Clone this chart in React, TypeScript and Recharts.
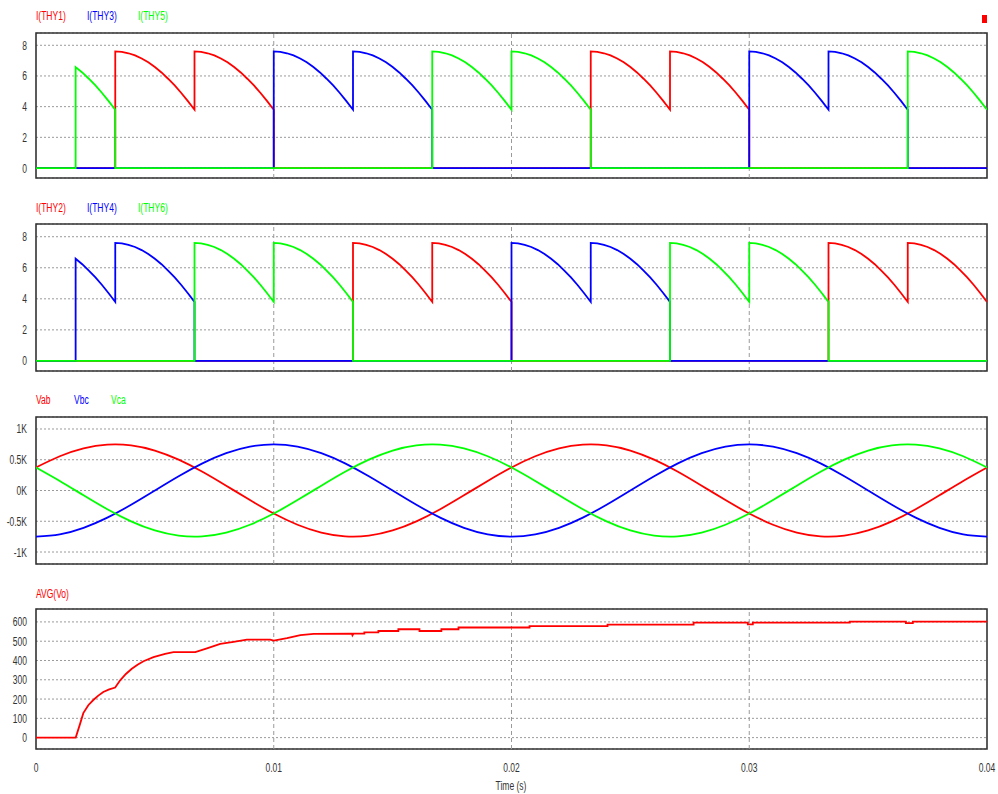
import React from 'react';
import { LineChart, Line, XAxis, YAxis, CartesianGrid, ReferenceLine, ReferenceArea } from 'recharts';

// time base of the voltage samples (ms)
const V_TIME_MS = Array.from({ length: 41 }, (_, i) => i);

const VAB = [375, 557, 685, 746, 734, 650, 502, 305, 78, -156, -375, -557, -685, -746, -734, -650, -502, -305, -78, 156, 375,
  557, 685, 746, 734, 650, 502, 305, 78, -156, -375, -557, -685, -746, -734, -650, -502, -305, -78, 156, 375];
const VBC = [-750, -713, -607, -441, -232, 0, 232, 441, 607, 713, 750, 713, 607, 441, 232, 0, -232, -441, -607, -713, -750,
  -713, -607, -441, -232, 0, 232, 441, 607, 713, 750, 713, 607, 441, 232, 0, -232, -441, -607, -713, -750];
const VCA = [375, 156, -78, -305, -502, -650, -734, -746, -685, -557, -375, -156, 78, 305, 502, 650, 734, 746, 685, 557, 375,
  156, -78, -305, -502, -650, -734, -746, -685, -557, -375, -156, 78, 305, 502, 650, 734, 746, 685, 557, 375];

// one 60 deg conduction step of the load current, peak -> trough (A)
const SEG_SHAPE = [7.6, 7.57, 7.48, 7.34, 7.14, 6.89, 6.58, 6.23, 5.82, 5.38, 4.89, 4.36, 3.8];
const SEG_MS = 40 / 12;

// conduction windows (ms)
const THY1_ON = [[3.333, 10], [23.333, 30]];
const THY3_ON = [[10, 16.667], [30, 36.667]];
const THY5_ON = [[1.667, 3.333], [16.667, 23.333], [36.667, 40]];
const THY2_ON = [[13.333, 20], [33.333, 40]];
const THY4_ON = [[1.667, 6.667], [20, 26.667]];
const THY6_ON = [[6.667, 13.333], [26.667, 33.333]];

// AVG(Vo)
const AVG_T_MS = [0, 1.67, 1.85, 1.99, 2.2, 2.41, 2.62, 2.83, 3.08, 3.33, 3.54, 3.78, 4.03, 4.27, 4.52, 4.94, 5.43, 5.78, 6.7,
  7.19, 7.75, 8.31, 8.87, 9.85, 10, 10.56, 11.12, 11.68, 13.29, 13.31, 13.35, 13.81, 13.81, 14.4, 14.4, 15.24, 15.24,
  16.13, 16.13, 17.05, 17.05, 17.77, 17.77, 20.76, 20.76, 24.04, 24.04, 27.66, 27.66, 29.94, 29.94, 30.15, 30.15,
  34.23, 34.23, 36.59, 36.59, 36.88, 36.88, 40];
const AVG_V = [0, 0, 70, 127, 168, 195, 218, 237, 250, 260, 297, 330, 357, 378, 396, 417, 434, 443, 443,
  463, 486, 497, 508, 508, 503, 516, 532, 538, 539, 531, 539, 539, 546, 546, 553, 553, 562,
  562, 553, 553, 562, 562, 571, 571, 578, 578, 586, 586, 596, 596, 587, 587, 596,
  596, 602, 602, 594, 594, 602, 602];

const TIME_TICKS = [0, 0.01, 0.02, 0.03, 0.04];
const I_TICKS = [0, 2, 4, 6, 8];
const V_TICKS = [-1000, -500, 0, 500, 1000];
const AVG_TICKS = [0, 100, 200, 300, 400, 500, 600];

const RED = '#ff0000';
const BLUE = '#0000ff';
const GREEN = '#00ff00';
const SX = 0.63;
const FONT = '"Liberation Sans", Arial, sans-serif';

type Pt = { t: number; v: number };

function thyristorSeries(windows: number[][]): Pt[] {
  const sub = SEG_SHAPE.length - 1;
  const tt = (i: number) => (i * SEG_MS) / sub / 1000;
  const pts: Pt[] = [{ t: 0, v: 0 }];
  let endsAtLast = false;
  windows.forEach(([a, b]) => {
    const i0 = Math.round((a / SEG_MS) * sub);
    const i1 = Math.round((b / SEG_MS) * sub);
    pts.push({ t: tt(i0), v: 0 });
    for (let i = i0; i <= i1; i++) {
      const k = i % sub;
      if (i === i0) pts.push({ t: tt(i), v: SEG_SHAPE[k] });
      else if (k === 0) {
        pts.push({ t: tt(i), v: SEG_SHAPE[sub] });
        if (i < i1) pts.push({ t: tt(i), v: SEG_SHAPE[0] });
      } else pts.push({ t: tt(i), v: SEG_SHAPE[k] });
    }
    if (b < 39.99) pts.push({ t: tt(i1), v: 0 });
    else endsAtLast = true;
  });
  if (!endsAtLast) pts.push({ t: 0.04, v: 0 });
  return pts;
}

const vSeries = (vals: number[]): Pt[] => vals.map((v, i) => ({ t: V_TIME_MS[i] / 1000, v }));
const avgSeries: Pt[] = AVG_V.map((v, i) => ({ t: AVG_T_MS[i] / 1000, v }));

function NarrowText({ x, y, anchor = 'start', fill = '#333', size = 13.5, children }: any) {
  return (
    <g transform={`translate(${x},${y})`}>
      <text transform={`scale(${SX},1)`} textAnchor={anchor} fill={fill} fontSize={size} fontFamily={FONT}>
        {children}
      </text>
    </g>
  );
}

const makeYTick = (fmt: (v: number) => string) => (props: any) => {
  const { x, y, payload } = props;
  return <NarrowText x={x} y={y + 4.5} anchor="end">{fmt(payload.value)}</NarrowText>;
};

const XTick = (props: any) => {
  const { x, y, payload } = props;
  const v = payload.value;
  return <NarrowText x={x} y={y + 22.5} anchor="middle">{v === 0 ? '0' : String(Number(v.toFixed(2)))}</NarrowText>;
};

type SeriesDef = { data: Pt[]; color: string; curve?: any };

function Panel({ top, height, mTop, mBottom, domain, ticks, fmt, series, showX }: any) {
  return (
    <div style={{ position: 'absolute', left: 0, top, width: 998, height }}>
      <LineChart width={998} height={height} margin={{ top: mTop, right: 11, bottom: mBottom, left: 0 }}>
        <CartesianGrid vertical={false} stroke="#9a9a9a" strokeDasharray="2 2" />
        <XAxis
          type="number"
          dataKey="t"
          domain={[0, 0.04]}
          ticks={TIME_TICKS}
          hide={!showX}
          height={showX ? 45 : 0}
          axisLine={false}
          tickLine={false}
          tickSize={0}
          tickMargin={0}
          tick={<XTick />}
          interval={0}
          allowDataOverflow
        />
        <YAxis
          type="number"
          dataKey="v"
          domain={domain}
          ticks={ticks}
          width={36}
          axisLine={false}
          tickLine={false}
          tickSize={0}
          tickMargin={9}
          tick={makeYTick(fmt)}
          interval={0}
          allowDataOverflow
        />
        {[0.01, 0.02, 0.03].map((x) => (
          <ReferenceLine key={x} x={x} stroke="#9a9a9a" strokeDasharray="4 3" />
        ))}
        {series.map((s: SeriesDef, i: number) => (
          <Line
            key={i}
            data={s.data}
            dataKey="v"
            type={s.curve || 'linear'}
            stroke={s.color}
            strokeWidth={1.8}
            dot={false}
            activeDot={false}
            isAnimationActive={false}
          />
        ))}
        <ReferenceArea x1={0} x2={0.04} y1={domain[0]} y2={domain[1]} fill="none" stroke="#333" strokeWidth={1.6} />
      </LineChart>
    </div>
  );
}

export default function App() {
  const iFmt = (v: number) => String(v);
  const vFmt = (v: number) => `${v / 1000}K`;
  return (
    <div style={{ position: 'absolute', left: 0, top: 0, width: 998, height: 794, background: '#fff', overflow: 'hidden' }}>
      <Panel
        top={0}
        height={190}
        mTop={33}
        mBottom={12}
        domain={[-0.65, 8.8]}
        ticks={I_TICKS}
        fmt={iFmt}
        series={[
          { data: thyristorSeries(THY1_ON), color: RED },
          { data: thyristorSeries(THY3_ON), color: BLUE },
          { data: thyristorSeries(THY5_ON), color: GREEN },
        ]}
      />
      <Panel
        top={190}
        height={190}
        mTop={34}
        mBottom={9}
        domain={[-0.65, 8.82]}
        ticks={I_TICKS}
        fmt={iFmt}
        series={[
          { data: thyristorSeries(THY2_ON), color: RED },
          { data: thyristorSeries(THY4_ON), color: BLUE },
          { data: thyristorSeries(THY6_ON), color: GREEN },
        ]}
      />
      <Panel
        top={380}
        height={200}
        mTop={37}
        mBottom={16}
        domain={[-1195, 1195]}
        ticks={V_TICKS}
        fmt={vFmt}
        series={[
          { data: vSeries(VAB), color: RED, curve: 'natural' },
          { data: vSeries(VBC), color: BLUE, curve: 'natural' },
          { data: vSeries(VCA), color: GREEN, curve: 'natural' },
        ]}
      />
      <Panel
        top={580}
        height={214}
        mTop={29}
        mBottom={0}
        domain={[-59, 667]}
        ticks={AVG_TICKS}
        fmt={iFmt}
        showX
        series={[{ data: avgSeries, color: RED }]}
      />
      <svg width={998} height={794} style={{ position: 'absolute', left: 0, top: 0, pointerEvents: 'none' }}>
        <NarrowText x={36} y={19.5} fill={RED}>I(THY1)</NarrowText>
        <NarrowText x={87} y={19.5} fill={BLUE}>I(THY3)</NarrowText>
        <NarrowText x={138} y={19.5} fill={GREEN}>I(THY5)</NarrowText>
        <NarrowText x={36} y={211.5} fill={RED}>I(THY2)</NarrowText>
        <NarrowText x={87} y={211.5} fill={BLUE}>I(THY4)</NarrowText>
        <NarrowText x={138} y={211.5} fill={GREEN}>I(THY6)</NarrowText>
        <NarrowText x={36} y={403.5} fill={RED}>Vab</NarrowText>
        <NarrowText x={74} y={403.5} fill={BLUE}>Vbc</NarrowText>
        <NarrowText x={111} y={403.5} fill={GREEN}>Vca</NarrowText>
        <NarrowText x={36} y={598} fill={RED}>AVG(Vo)</NarrowText>
        <NarrowText x={511} y={790} anchor="middle">Time (s)</NarrowText>
        <rect x={982} y={15} width={5} height={8} fill={RED} />
      </svg>
    </div>
  );
}
